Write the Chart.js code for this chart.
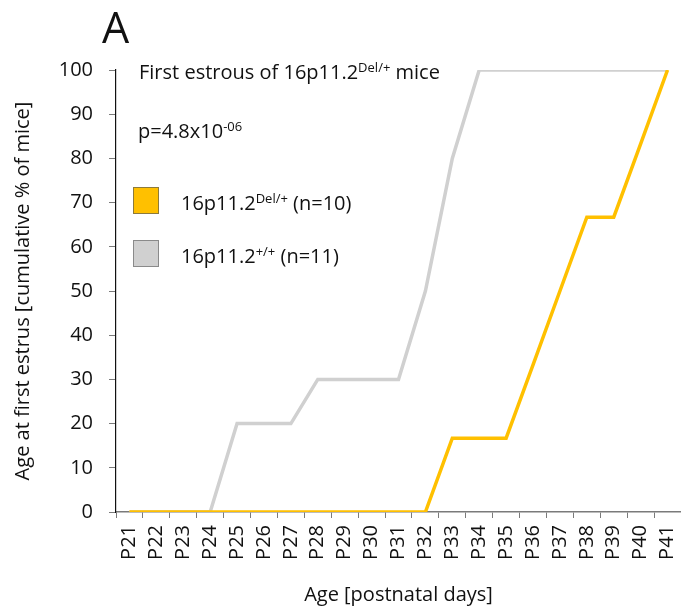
<!DOCTYPE html>
<html>
<head>
<meta charset="utf-8">
<script src="https://cdn.jsdelivr.net/npm/chart.js@4/dist/chart.umd.min.js"></script>
<style>
  html, body { margin: 0; padding: 0; background: #ffffff; }
  #wrap { position: relative; width: 681px; height: 613px; }
</style>
</head>
<body>
<div id="wrap"><canvas id="chart"></canvas></div>
<script>
// Postnatal day categories
const days = ['P21','P22','P23','P24','P25','P26','P27','P28','P29','P30','P31',
              'P32','P33','P34','P35','P36','P37','P38','P39','P40','P41'];

// Cumulative % of mice that had their first estrus, per day
const delValues = [0,0,0,0,0,0,0,0,0,0,0,0,16.7,16.7,16.7,33.3,50,66.7,66.7,83.3,100];
const wtValues  = [0,0,0,0,20,20,20,30,30,30,30,50,80,100,100,100,100,100,100,100,100];

// Y axis range and step
const yMin = 0, yMax = 100, yStep = 10;

// Series names split into base / superscript / suffix
const delName = ['16p11.2', 'Del/+', ' (n=10)'];
const wtName  = ['16p11.2', '+/+', ' (n=11)'];

const panelLetter = 'A';
const titleParts = ['First estrous of 16p11.2', 'Del/+', ' mice'];
const pParts = ['p=4.8x10', '-06', ''];

const DEL_COLOR = '#FFC000';
const WT_COLOR = '#D0D0D0';
const FONT = '"Open Sans", "Noto Sans", sans-serif';
const TEXT_SIZE = 20;

// Draw text with a raised, smaller middle part
function drawSup(ctx, x, y, parts, size) {
  ctx.font = size + 'px ' + FONT;
  ctx.fillText(parts[0], x, y);
  x += ctx.measureText(parts[0]).width;
  const supSize = Math.round(size * 0.64);
  ctx.font = supSize + 'px ' + FONT;
  ctx.fillText(parts[1], x, y - size * 0.37);
  x += ctx.measureText(parts[1]).width;
  ctx.font = size + 'px ' + FONT;
  ctx.fillText(parts[2], x, y);
}

const annotations = {
  id: 'annotations',
  afterDraw(chart) {
    const ctx = chart.ctx;
    ctx.save();
    ctx.fillStyle = '#111111';
    ctx.textAlign = 'left';
    ctx.textBaseline = 'alphabetic';

    ctx.font = '43px ' + FONT;
    ctx.fillText(panelLetter, 102, 43);

    drawSup(ctx, 139, 79, titleParts, TEXT_SIZE);
    drawSup(ctx, 138, 138, pParts, TEXT_SIZE);

    const legend = [
      { color: DEL_COLOR, border: '#8C7A3C', name: delName, y: 187 },
      { color: WT_COLOR,  border: '#8A8A8A', name: wtName,  y: 240 }
    ];
    legend.forEach(item => {
      ctx.fillStyle = item.color;
      ctx.fillRect(133, item.y, 26, 27);
      ctx.strokeStyle = item.border;
      ctx.lineWidth = 1;
      ctx.strokeRect(133.5, item.y + 0.5, 25, 26);
      ctx.fillStyle = '#111111';
      drawSup(ctx, 181, item.y + 23, item.name, TEXT_SIZE);
    });
    ctx.restore();
  }
};

new Chart(document.getElementById('chart'), {
  type: 'line',
  data: {
    labels: days,
    datasets: [
      {
        label: delName.join(''),
        data: delValues,
        borderColor: DEL_COLOR,
        borderWidth: 3.5,
        pointRadius: 0,
        tension: 0,
        order: 0
      },
      {
        label: wtName.join(''),
        data: wtValues,
        borderColor: WT_COLOR,
        borderWidth: 3.5,
        pointRadius: 0,
        tension: 0,
        order: 1
      }
    ]
  },
  options: {
    responsive: true,
    maintainAspectRatio: false,
    animation: false,
    layout: { padding: { top: 70, right: -2, bottom: 0, left: 0 } },
    plugins: {
      legend: { display: false },
      tooltip: { enabled: false },
      title: { display: false }
    },
    scales: {
      x: {
        type: 'category',
        offset: true,
        grid: {
          offset: true,
          drawOnChartArea: false,
          drawTicks: true,
          tickLength: 6,
          color: '#7a7a7a'
        },
        border: { color: '#7a7a7a', width: 1.5 },
        ticks: {
          minRotation: 90,
          maxRotation: 90,
          autoSkip: false,
          padding: 7,
          color: '#111111',
          font: { family: FONT, size: TEXT_SIZE }
        },
        title: {
          display: true,
          text: 'Age [postnatal days]',
          color: '#111111',
          font: { family: FONT, size: TEXT_SIZE },
          padding: { top: 0, bottom: 6 }
        },
        afterFit(scale) {
          scale.height = 101;
          scale.paddingLeft = 0;
          scale.paddingRight = 0;
        }
      },
      y: {
        min: yMin,
        max: yMax,
        grid: {
          drawOnChartArea: false,
          drawTicks: true,
          tickLength: 7,
          color: '#7a7a7a'
        },
        border: { color: '#111111', width: 1.2 },
        ticks: {
          stepSize: yStep,
          padding: 16,
          color: '#111111',
          font: { family: FONT, size: TEXT_SIZE }
        },
        title: {
          display: true,
          text: 'Age at first estrus [cumulative % of mice]',
          color: '#111111',
          font: { family: FONT, size: TEXT_SIZE },
          padding: { top: 11, bottom: 0 }
        },
        afterFit(scale) {
          scale.width = 116;
          scale.paddingTop = 0;
          scale.paddingBottom = 0;
        }
      }
    }
  },
  plugins: [annotations]
});
</script>
</body>
</html>
